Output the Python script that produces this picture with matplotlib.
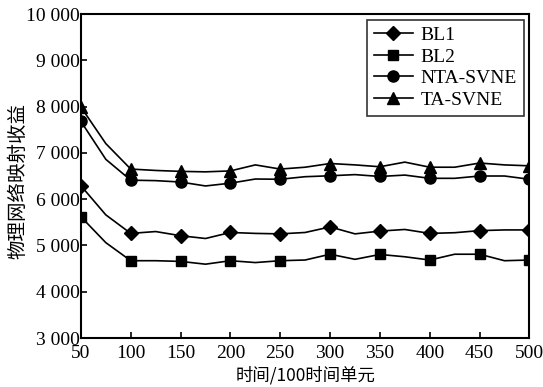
import matplotlib
matplotlib.use("Agg")
import matplotlib.pyplot as plt

plt.rcParams['font.family'] = ['Liberation Serif', 'Noto Sans CJK SC']

# time, in units of 100 time steps
t = [50, 75, 100, 125, 150, 175, 200, 225, 250, 275, 300, 325, 350, 375, 400, 425, 450, 475, 500]

bl1 = [6290, 5660, 5260, 5300, 5210, 5150, 5280, 5260, 5250, 5280, 5400, 5250, 5310, 5345, 5260, 5275, 5320, 5335, 5335]
bl2 = [5620, 5060, 4670, 4670, 4655, 4595, 4670, 4630, 4670, 4685, 4810, 4700, 4805, 4755, 4685, 4810, 4810, 4670, 4685]
nta_svne = [7680, 6860, 6410, 6400, 6370, 6285, 6345, 6435, 6430, 6485, 6505, 6530, 6490, 6520, 6450, 6450, 6500, 6500, 6430]
ta_svne = [7990, 7200, 6650, 6620, 6600, 6590, 6610, 6740, 6650, 6690, 6770, 6740, 6700, 6800, 6690, 6690, 6780, 6740, 6720]

series = [('BL1', bl1, 'D', 7.5), ('BL2', bl2, 's', 7.5),
          ('NTA-SVNE', nta_svne, 'o', 8), ('TA-SVNE', ta_svne, '^', 8)]

fig = plt.figure(figsize=(5.43, 3.87), dpi=100)
ax = fig.add_axes([0.149, 0.1266, 0.826, 0.8372])

for name, vals, mk, ms in series:
    ax.plot(t, vals, color='black', lw=1.2, marker=mk, ms=ms, markevery=2, label=name)

ax.set_xlim(50, 500)
ax.set_ylim(3000, 10000)
ax.set_xticks(range(50, 501, 50))
yt = list(range(3000, 10001, 1000))
ax.set_yticks(yt)
ax.set_yticklabels(['%d %03d' % (v // 1000, v % 1000) for v in yt])
ax.tick_params(direction='in', length=4, width=1.2, labelsize=14, pad=1)
ax.tick_params(axis='x', pad=5)
for s in ax.spines.values():
    s.set_linewidth(1.5)

ax.set_xlabel('时间/100时间单元', fontsize=12.5, family=['Noto Sans CJK SC'])
ax.set_ylabel('物理网络映射收益', fontsize=14, family=['Noto Sans CJK SC'])
ax.xaxis.set_label_coords(0.501, -0.114, transform=ax.transAxes)
ax.xaxis.label.set_va('center')
ax.yaxis.set_label_coords(-0.140, 0.485, transform=ax.transAxes)
ax.yaxis.label.set_va('center')

leg = ax.legend(loc='upper right', fontsize=14, frameon=True, fancybox=False,
                handlelength=2, handletextpad=0.4, borderpad=0.35, labelspacing=0.2,
                borderaxespad=0.3, edgecolor='black')
leg.get_frame().set_linewidth(1.2)

fig.savefig('out.png', dpi=100)
